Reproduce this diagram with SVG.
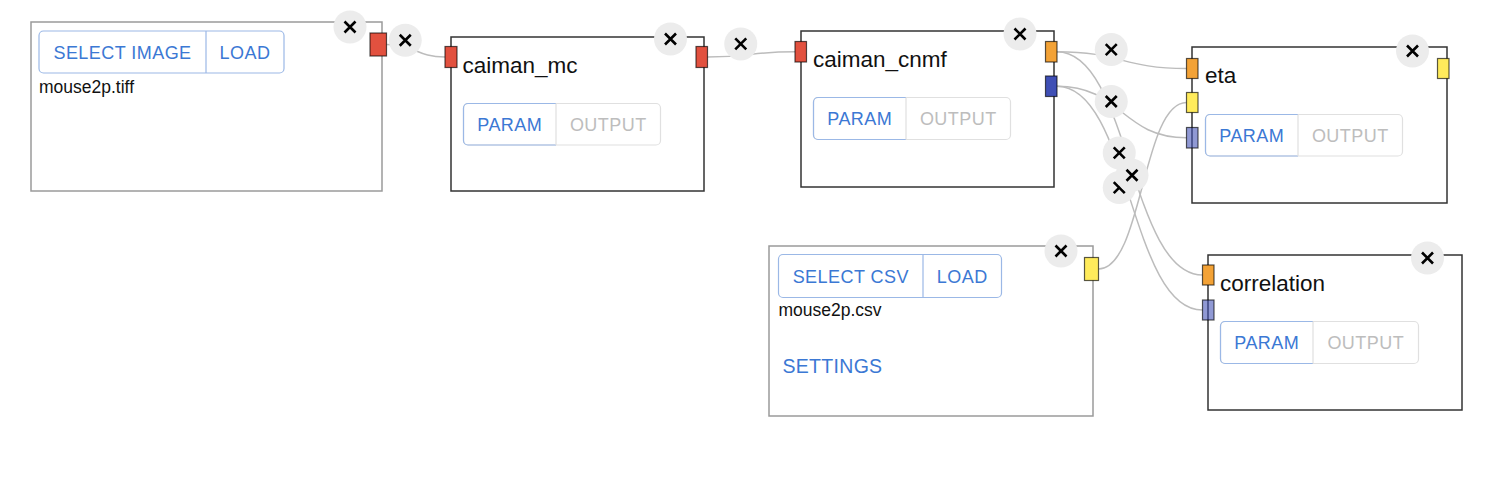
<svg xmlns="http://www.w3.org/2000/svg" xmlns:xlink="http://www.w3.org/1999/xlink" width="1494" height="486" viewBox="0 0 1494 486">
<style>
.node{fill:#fff;stroke:#333;stroke-width:1.5}
.node.io{stroke:#9a9a9a}
.title{font-family:"Liberation Sans",Arial,sans-serif;font-size:22.5px;fill:#111}
.fname{font-family:"Liberation Sans",Arial,sans-serif;font-size:17.5px;fill:#111}
.btn{font-family:"Liberation Sans",Arial,sans-serif;font-size:18px;letter-spacing:0.45px;text-anchor:middle}
.blue{fill:#3b78d4}
.gray{fill:#bdbdbd}
.bb{fill:none;stroke:#9bb8e6;stroke-width:1.2}
.gb{fill:none;stroke:#e0e0e0;stroke-width:1.2}
.h{stroke:#000;stroke-opacity:0.65;stroke-width:1.2}
.red{fill:#e2513f}
.orange{fill:#f3a236}
.dblue{fill:#3f4fb5}
.yellow{fill:#ffeb5b}
.lav{fill:#3f4fb5;fill-opacity:0.58}
.edge{fill:none;stroke:#bcbcbc;stroke-width:1.5}
</style>
<defs>
<g id="x">
<circle cx="0" cy="0" r="16.5" fill="#ececec"/>
<path d="M-5.5,-5.5 L5.5,5.5 M5.5,-5.5 L-5.5,5.5" stroke="#000" stroke-width="2.6" fill="none"/>
</g>
</defs>
<rect width="1494" height="486" fill="#fff"/>

<g id="connectors">
<path class="edge" d="M386.5,44.5 C415.75,44.5 415.75,57 445,57"/>
<path class="edge" d="M707.5,57 C751.25,57 751.25,51.75 795,51.75"/>
<path class="edge" d="M1057,51.75 C1121.75,51.75 1121.75,68.5 1186.5,68.5"/>
<path class="edge" d="M1057,86.25 C1121.75,86.25 1121.75,137.75 1186.5,137.75"/>
<path class="edge" d="M1057,51.75 C1129.75,51.75 1129.75,275 1202.5,275"/>
<path class="edge" d="M1057,86.25 C1129.75,86.25 1129.75,310 1202.5,310"/>
<path class="edge" d="M1098.5,269 C1142.5,269 1142.5,102.5 1186.5,102.5"/>
<use xlink:href="#x" x="405.25" y="40.25"/>
<use xlink:href="#x" x="740.75" y="43.9"/>
<use xlink:href="#x" x="1111.25" y="49.6"/>
<use xlink:href="#x" x="1111.25" y="101.5"/>
<use xlink:href="#x" x="1119.25" y="152.9"/>
<use xlink:href="#x" x="1119.25" y="187.6"/>
<use xlink:href="#x" x="1132" y="175.25"/>
</g>

<g id="node-image">
<rect class="node io" x="31" y="22" width="351" height="169"/>
<rect class="bb" x="39" y="31" width="245" height="42" rx="4.5"/>
<line class="bb" x1="206" y1="31" x2="206" y2="73"/>
<text class="btn blue" x="122.5" y="58.5">SELECT IMAGE</text>
<text class="btn blue" x="245" y="58.5">LOAD</text>
<text class="fname" x="39" y="93">mouse2p.tiff</text>
<rect class="h red" x="370" y="33" width="16.5" height="23"/>
<use xlink:href="#x" x="350" y="27"/>
</g>

<g id="node-caiman_mc">
<rect class="node" x="451" y="37" width="253" height="154"/>
<text class="title" x="462.5" y="73">caiman_mc</text>
<rect class="gb" x="463.5" y="103.5" width="197" height="41.5" rx="4.5"/>
<path class="bb" d="M556,103.5 H468 A4.5,4.5 0 0 0 463.5,108 V140.5 A4.5,4.5 0 0 0 468,145 H556"/>
<line class="gb" x1="556" y1="103.5" x2="556" y2="145"/>
<text class="btn blue" x="509.75" y="130.5">PARAM</text>
<text class="btn gray" x="608.25" y="130.5">OUTPUT</text>
<rect class="h red" x="445" y="46.5" width="12" height="21"/>
<rect class="h red" x="696" y="46.5" width="11.5" height="21"/>
<use xlink:href="#x" x="670.5" y="39"/>
</g>

<g id="node-caiman_cnmf">
<rect class="node" x="801" y="31" width="253" height="156"/>
<text class="title" x="813" y="67">caiman_cnmf</text>
<rect class="gb" x="813.5" y="97.5" width="197" height="42" rx="4.5"/>
<path class="bb" d="M906,97.5 H818 A4.5,4.5 0 0 0 813.5,102 V135 A4.5,4.5 0 0 0 818,139.5 H906"/>
<line class="gb" x1="906" y1="97.5" x2="906" y2="139.5"/>
<text class="btn blue" x="859.75" y="124.5">PARAM</text>
<text class="btn gray" x="958.25" y="124.5">OUTPUT</text>
<rect class="h red" x="795" y="41.5" width="11.5" height="20.5"/>
<rect class="h orange" x="1045.5" y="41.5" width="11.5" height="20.5"/>
<rect class="h dblue" x="1045.5" y="76" width="11.5" height="20.5"/>
<use xlink:href="#x" x="1020" y="34"/>
</g>

<g id="node-eta">
<rect class="node" x="1192" y="47" width="255" height="156"/>
<text class="title" x="1205" y="83">eta</text>
<rect class="gb" x="1205.5" y="114.5" width="197" height="41.5" rx="4.5"/>
<path class="bb" d="M1298,114.5 H1210 A4.5,4.5 0 0 0 1205.5,119 V151.5 A4.5,4.5 0 0 0 1210,156 H1298"/>
<line class="gb" x1="1298" y1="114.5" x2="1298" y2="156"/>
<text class="btn blue" x="1251.75" y="141.5">PARAM</text>
<text class="btn gray" x="1350.25" y="141.5">OUTPUT</text>
<rect class="h orange" x="1186.5" y="58.5" width="11.5" height="20"/>
<rect class="h yellow" x="1186.5" y="92.5" width="11.5" height="20"/>
<rect class="h lav" x="1186.5" y="127.5" width="11.5" height="20.5"/>
<rect class="h yellow" x="1437.5" y="58.5" width="11.5" height="20"/>
<use xlink:href="#x" x="1412.5" y="51"/>
</g>

<g id="node-correlation">
<rect class="node" x="1208" y="255" width="254" height="155"/>
<text class="title" x="1220" y="291">correlation</text>
<rect class="gb" x="1220.5" y="321.5" width="198" height="42" rx="4.5"/>
<path class="bb" d="M1313,321.5 H1225 A4.5,4.5 0 0 0 1220.5,326 V359 A4.5,4.5 0 0 0 1225,363.5 H1313"/>
<line class="gb" x1="1313" y1="321.5" x2="1313" y2="363.5"/>
<text class="btn blue" x="1266.75" y="348.5">PARAM</text>
<text class="btn gray" x="1365.75" y="348.5">OUTPUT</text>
<rect class="h orange" x="1202.5" y="265" width="11.5" height="20"/>
<rect class="h lav" x="1202.5" y="300" width="11.5" height="20"/>
<use xlink:href="#x" x="1427.5" y="258"/>
</g>

<g id="node-csv">
<rect class="node io" x="769" y="246" width="324" height="170"/>
<rect class="bb" x="778.5" y="254.5" width="223" height="43" rx="4.5"/>
<line class="bb" x1="923" y1="254.5" x2="923" y2="297.5"/>
<text class="btn blue" x="850.75" y="282.5">SELECT CSV</text>
<text class="btn blue" x="962.25" y="282.5">LOAD</text>
<text class="fname" x="778.5" y="316">mouse2p.csv</text>
<text class="btn blue" x="782.5" y="372.5" style="text-anchor:start;font-size:19.5px;letter-spacing:0.3px">SETTINGS</text>
<rect class="h yellow" x="1084.5" y="257.5" width="14" height="23"/>
<use xlink:href="#x" x="1061" y="251"/>
</g>
</svg>
